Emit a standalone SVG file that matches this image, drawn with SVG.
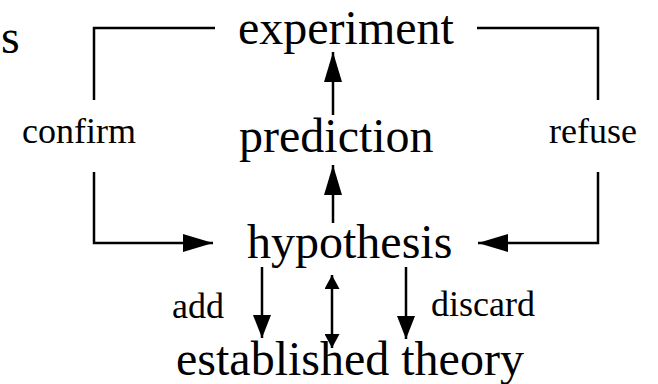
<svg xmlns="http://www.w3.org/2000/svg" width="658" height="384" viewBox="0 0 658 384">
<style>
.big{font-family:"Liberation Serif","Times New Roman",serif;font-size:48px;fill:#000}
.small{font-family:"Liberation Serif","Times New Roman",serif;font-size:36px;fill:#000}
.ln{fill:none;stroke:#000;stroke-width:2.5}
</style>
<defs>
<marker id="ah" markerUnits="userSpaceOnUse" viewBox="0 0 30 18" markerWidth="30" markerHeight="18" refX="30" refY="9" orient="auto"><path d="M0,0 L30,9 L0,18 z" fill="#000"/></marker>
<marker id="ahm" markerUnits="userSpaceOnUse" viewBox="0 0 23 18" markerWidth="23" markerHeight="18" refX="23" refY="9" orient="auto"><path d="M0,0 L23,9 L0,18 z" fill="#000"/></marker>
<marker id="ahs" markerUnits="userSpaceOnUse" viewBox="0 0 14 15" markerWidth="14" markerHeight="15" refX="14" refY="7.5" orient="auto-start-reverse"><path d="M0,0 L14,7.5 L0,15 z" fill="#000"/></marker>
</defs>
<text class="big" x="1" y="53">s</text>
<g id="experiment"><text class="big" x="238" y="44">experiment</text></g>
<g id="prediction"><text class="big" x="239" y="152">prediction</text></g>
<g id="hypothesis"><text class="big" x="247" y="258">hypothesis</text></g>
<g id="established"><text class="big" x="176" y="375">established theory</text></g>
<g id="connectors">
<path class="ln" d="M215,28 H94 V100"/>
<path class="ln" d="M94,172 V243 H213" marker-end="url(#ah)"/>
<path class="ln" d="M477,28 H598 V100"/>
<path class="ln" d="M598,172 V243 H478" marker-end="url(#ah)"/>
<path class="ln" d="M333,115 V52" marker-end="url(#ah)"/>
<path class="ln" d="M333,223 V165" marker-end="url(#ah)"/>
<path class="ln" d="M262,267 V338" marker-end="url(#ahm)"/>
<path class="ln" d="M406,267 V339" marker-end="url(#ahm)"/>
<path class="ln" d="M332,275 V348" marker-start="url(#ahs)" marker-end="url(#ahs)"/>
<text class="small" x="22" y="143">confirm</text>
<text class="small" x="549" y="143">refuse</text>
<text class="small" x="172" y="318">add</text>
<text class="small" x="431" y="316">discard</text>
</g>
</svg>
